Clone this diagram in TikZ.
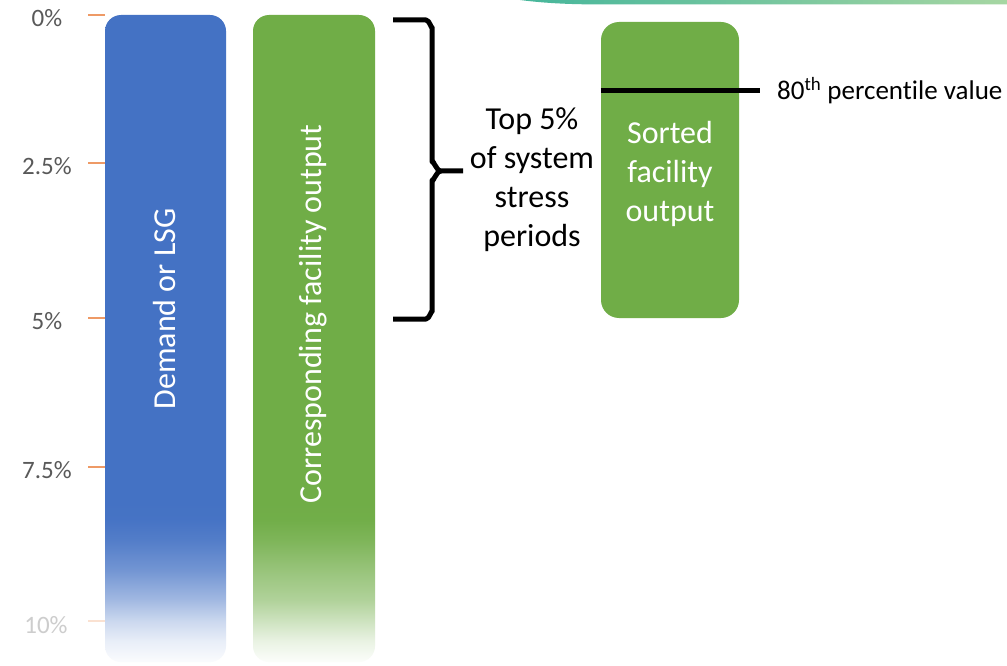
\documentclass[tikz,border=0pt]{standalone}
\usepackage{fontspec}
\setmainfont{Carlito}[Ligatures=NoCommon]
\definecolor{barblue}{HTML}{4472C4}
\definecolor{bargreen}{HTML}{70AD47}
\definecolor{tickorange}{HTML}{EE9A66}
\definecolor{axisgray}{HTML}{595959}
\definecolor{bandteal}{HTML}{46B69B}
\definecolor{bandlight}{HTML}{A6D6A2}
% full-height bar shadings: solid colour that fades out towards the bottom
% (25bp = bottom edge of the bar, 75bp = top edge)
\pgfdeclareverticalshading{bluebar}{100bp}{%
  color(0bp)=(barblue!3!white); color(25.1bp)=(barblue!3!white);
  color(26.6bp)=(barblue!12!white); color(28.2bp)=(barblue!28!white);
  color(29.8bp)=(barblue!50!white); color(32.1bp)=(barblue!75!white);
  color(34.4bp)=(barblue!92!white); color(36bp)=(barblue!99!white);
  color(37.5bp)=(barblue); color(100bp)=(barblue)}
\pgfdeclareverticalshading{greenbar}{100bp}{%
  color(0bp)=(bargreen!3!white); color(25.1bp)=(bargreen!3!white);
  color(26.6bp)=(bargreen!15!white); color(28.2bp)=(bargreen!35!white);
  color(29.8bp)=(bargreen!55!white); color(32.1bp)=(bargreen!72!white);
  color(34.4bp)=(bargreen!90!white); color(36bp)=(bargreen!99!white);
  color(37.5bp)=(bargreen); color(100bp)=(bargreen)}
\tikzset{
  big/.style={font=\fontsize{32}{39}\selectfont},
  axislabel/.style={font=\fontsize{25}{28}\selectfont, text=axisgray, anchor=center, inner sep=0pt},
  tick/.style={draw=tickorange, line width=1.2pt},
  barlabel/.style={big, text=white, rotate=90, anchor=center, inner sep=0pt},
  bracket/.style={line width=5pt, line join=round},
}
\begin{document}
\begin{tikzpicture}[x=1pt, y=-1pt]
  \useasboundingbox (0,0) rectangle (1007,666);
  \fill[white] (0,0) rectangle (1007,666);

  % decorative band along the top edge
  \shade[left color=bandteal, right color=bandlight]
    (520,0) .. controls (555,4.5) and (585,4.5) .. (620,4.5) -- (1007,4.5) -- (1007,0) -- cycle;

  % axis ticks and percentages
  \foreach \yy/\lab in {15/0\%, 163/2.5\%, 318/5\%, 467/7.5\%} {
    \draw[tick] (88,\yy) -- (105,\yy);
    \node[axislabel] at (47,\yy+3) {\lab};
  }
  \draw[tick, draw=tickorange!30] (88,621) -- (105,621);
  \node[axislabel, text=axisgray!30] (p10) at (46,625) {10\%};

  % demand bar, fading out at the bottom
  \shade[shading=bluebar, rounded corners=16] (105,15) rectangle (226,662);
  \node[barlabel] (demand) at (165,309) {Demand or LSG};

  % facility output bar, fading out at the bottom
  \shade[shading=greenbar, rounded corners=16] (253,15) rectangle (375,662);
  \node[barlabel] (facility) at (313,314) {Corresponding facility output};

  % bracket over the top 5%
  \draw[bracket] (393,20) -- (426,20) to[out=0, in=-90] (432,27) -- (432,162)
    to[out=90, in=180] (441,171) -- (463,171);
  \draw[bracket] (441,171) to[out=180, in=-90] (432,180) -- (432,312)
    to[out=90, in=0] (426,319) -- (393,319);
  \node[big, align=center, inner sep=0pt] (top) at (532,180)
    {Top 5\%\\of system\\stress\\periods};

  % sorted output box with the percentile marker
  \node[fill=bargreen, rounded corners=18, minimum width=138pt, minimum height=296pt,
        inner sep=0pt] (sorted) at (670,170) {};
  \node[big, text=white, align=center, inner sep=0pt] (sortedtext) at (670,174)
    {Sorted\\facility\\output};
  \coordinate (pctend) at (760,91);
  \draw[line width=5pt] (sorted.west |- pctend) -- (pctend);
  \node[font=\fontsize{27}{30}\selectfont, anchor=west, inner sep=0pt] (pct) at (777,91)
    {80\textsuperscript{th} percentile value};
\end{tikzpicture}
\end{document}
